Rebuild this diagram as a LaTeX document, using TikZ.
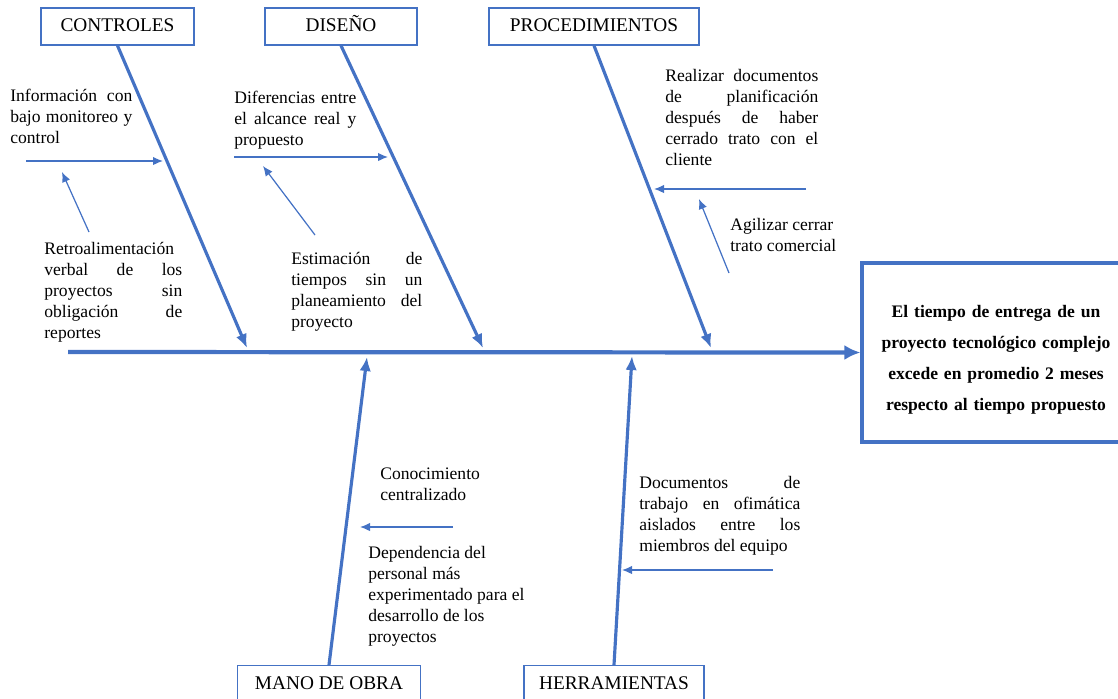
\documentclass[tikz,border=0pt]{standalone}
\usepackage{fontspec}
\setmainfont{Liberation Serif}
\usetikzlibrary{arrows.meta, positioning}
\definecolor{bonecol}{HTML}{4472C4}
\hyphenpenalty=10000

\begin{document}
\begin{tikzpicture}[
    x=0.02cm, y=-0.02cm,
    catbox/.style={draw=bonecol, line width=0.7pt, rectangle, minimum height=0.74cm, text height=1.6ex, text depth=0.3ex, font=\fontsize{11}{13}\selectfont},
    bone/.style={bonecol, line width=1.8pt, -{Latex[length=2.8mm, width=2.3mm]}},
    spine/.style={bonecol, line width=2.4pt, -{Latex[length=3.2mm, width=3mm]}},
    sub/.style={bonecol, line width=0.7pt, -{Latex[length=2mm, width=1.7mm]}},
    note/.style={anchor=north west, inner sep=0pt, align=justify, font=\fontsize{10}{12}\selectfont},
    effect/.style={draw=bonecol, line width=1.8pt, rectangle, minimum width=5.36cm, minimum height=3.58cm, text width=4.8cm, align=center, font=\fontsize{10}{17.6}\selectfont\bfseries}
    ]

    \useasboundingbox (0,0) rectangle (1118,698);

    % categories
    \node[catbox, minimum width=3.06cm] (c_box) at (117.5,26.5) {CONTROLES};
    \node[catbox, minimum width=3.04cm] (d_box) at (341,26.5) {DISEÑO};
    \node[catbox, minimum width=4.2cm] (p_box) at (594,26.5) {PROCEDIMIENTOS};
    \node[catbox, minimum width=3.66cm] (m_box) at (329,684) {MANO DE OBRA};
    \node[catbox, minimum width=3.6cm] (h_box) at (614,684) {HERRAMIENTAS};

    % effect
    \node[effect] (effect) at (996,352.5) {\rule{0pt}{15pt}El tiempo de entrega de un proyecto tecnológico complejo excede en promedio 2 meses respecto al tiempo propuesto};

    \coordinate (spine_start) at (68,352);
    \coordinate (c_tip) at (247,348);
    \coordinate (d_tip) at (483,348);
    \coordinate (p_tip) at (711,348);
    \coordinate (m_tip) at (367,357);
    \coordinate (h_tip) at (632,356);

    \draw[spine] (spine_start) -- (effect.west);
    \draw[bone] (c_box.south) -- (c_tip);
    \draw[bone] (d_box.south) -- (d_tip);
    \draw[bone] (p_box.south) -- (p_tip);
    \draw[bone] (m_box.north) -- (m_tip);
    \draw[bone] (h_box.north) -- (h_tip);

    % causes
    \node[note, text width=2.44cm] (c_info) at (10,89) {Información con\linebreak bajo monitoreo y\linebreak control};
    \node[note, text width=2.76cm] (c_retro) at (44,242) {Retroalimentación\linebreak verbal de los\linebreak proyectos sin\linebreak obligación de\linebreak reportes};
    \node[note, text width=2.44cm] (d_dif) at (234,91) {Diferencias entre\linebreak el alcance real y\linebreak propuesto};
    \node[note, text width=2.62cm] (d_est) at (291,252) {Estimación de\linebreak tiempos sin un\linebreak planeamiento del\linebreak proyecto};
    \node[note, text width=3.06cm] (p_real) at (665,69) {Realizar documentos\linebreak de planificación\linebreak después de haber\linebreak cerrado trato con el\linebreak cliente};
    \node[note, align=left] (p_agil) at (730,218) {Agilizar cerrar\\trato comercial};
    \node[note, align=left] (m_con) at (380,467) {Conocimiento\\centralizado};
    \node[note, align=left] (m_dep) at (368,546) {Dependencia del\\personal más\\experimentado para el\\desarrollo de los\\proyectos};
    \node[note, text width=3.22cm] (h_doc) at (639,476) {Documentos de\linebreak trabajo en ofimática\linebreak aislados entre los\linebreak miembros del equipo};

    \coordinate (c_a1) at (26,161);   \coordinate (c_b1) at (163,161);
    \coordinate (c_a2) at (89,232);   \coordinate (c_b2) at (62,172);
    \coordinate (d_a1) at (234,157);  \coordinate (d_b1) at (388,157);
    \coordinate (d_a2) at (315,235);  \coordinate (d_b2) at (263,166);
    \coordinate (p_a1) at (806,189);  \coordinate (p_b1) at (654,189);
    \coordinate (p_a2) at (729,273);  \coordinate (p_b2) at (699,199);
    \coordinate (m_a1) at (453,527);  \coordinate (m_b1) at (360,527);
    \coordinate (h_a1) at (773,570);  \coordinate (h_b1) at (622,570);

    \draw[sub] (c_a1) -- (c_b1);
    \draw[sub] (c_a2) -- (c_b2);
    \draw[sub] (d_a1) -- (d_b1);
    \draw[sub] (d_a2) -- (d_b2);
    \draw[sub] (p_a1) -- (p_b1);
    \draw[sub] (p_a2) -- (p_b2);
    \draw[sub] (m_a1) -- (m_b1);
    \draw[sub] (h_a1) -- (h_b1);

\end{tikzpicture}
\end{document}
